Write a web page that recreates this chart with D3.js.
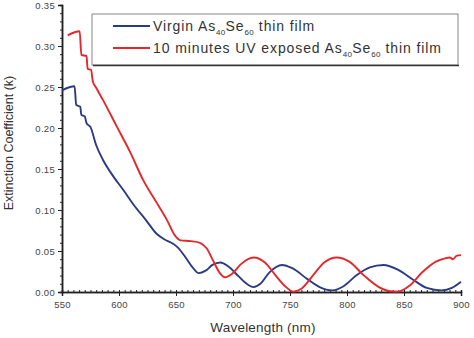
<!DOCTYPE html>
<html><head><meta charset="utf-8">
<script src="https://cdn.jsdelivr.net/npm/d3@7"></script>
<style>body{margin:0;background:#fff}svg{display:block}</style>
</head><body>
<svg id="c" width="474" height="338"></svg>
<script>
// ---- data ----
const xTicks = [550, 600, 650, 700, 750, 800, 850, 900];
const yTicks = [0.00, 0.05, 0.10, 0.15, 0.20, 0.25, 0.30, 0.35];
const virginWl = [550,561,562.5,566,567,570,571.5,575,580,586,595,604,612,624,633,640,646,651,658,664,670,676,682,689,696,705,712,718,724,732,743,752,765,776,787,797,808,820,832,845,858,870,883,892,900];
const virginK  = [0.246,0.251,0.228,0.226,0.216,0.214,0.206,0.201,0.179,0.161,0.141,0.124,0.108,0.087,0.071,0.064,0.060,0.055,0.043,0.031,0.023,0.026,0.033,0.036,0.031,0.019,0.010,0.006,0.010,0.024,0.033,0.029,0.016,0.006,0.002,0.007,0.020,0.030,0.033,0.027,0.015,0.005,0.002,0.005,0.0125];
const uvWl = [555,565.5,567,571.5,572.5,575.5,577,580,586,598,610,621,633,642,649,654,663,671,677,683,688,693,699,707,718,728,737,745,753,760,770,780,791,802,815,828,838,845,855,866,878,886,890,893,896,900];
const uvK  = [0.313,0.318,0.289,0.288,0.272,0.271,0.257,0.249,0.234,0.202,0.170,0.137,0.109,0.088,0.069,0.063,0.062,0.060,0.053,0.037,0.024,0.018,0.022,0.034,0.042,0.036,0.021,0.008,0.0005,0.004,0.020,0.036,0.042,0.037,0.020,0.006,0.001,0.0005,0.008,0.024,0.037,0.041,0.042,0.040,0.044,0.045];
const seriesNames = ["Virgin", "10 minutes UV exposed"];

// ---- chart ----
const svg = d3.select("#c");
const mLeft = 62, mRight = 461, mTop = 5, mBottom = 292;
const x = d3.scaleLinear().domain([550, 900]).range([mLeft, mRight]);
const y = d3.scaleLinear().domain([0, 0.35]).range([mBottom, mTop]);
const font = "Liberation Sans, Arial, sans-serif";
const axisColor = "#222";

// x axis
const gx = svg.append("g").attr("transform", `translate(0,${mBottom})`);
gx.call(d3.axisBottom(x).tickValues(d3.range(555, 900, 5)).tickSize(-2).tickFormat(""));
gx.call(g => g.append("g").call(d3.axisBottom(x).tickValues(xTicks).tickSize(4).tickFormat(d3.format("d"))));
gx.selectAll("path").attr("stroke", axisColor).attr("stroke-width", 1.5);
gx.selectAll("line").attr("stroke", axisColor);
gx.selectAll("text").attr("font-family", font).attr("font-size", 9.5).attr("fill", "#444").attr("dy", "0.9em").attr("letter-spacing", 0.3);

// y axis
const gy = svg.append("g").attr("transform", `translate(${mLeft},0)`);
gy.call(d3.axisLeft(y).tickValues(d3.range(0.01, 0.35, 0.01).filter(v => Math.abs(v*20 - Math.round(v*20)) > 1e-6)).tickSize(2).tickFormat(""));
gy.call(g => g.append("g").call(d3.axisLeft(y).tickValues(yTicks).tickSize(4).tickFormat(d3.format(".2f"))));
gy.selectAll("path").attr("stroke", axisColor).attr("stroke-width", 1.5);
gy.selectAll("line").attr("stroke", axisColor);
gy.selectAll("text").attr("font-family", font).attr("font-size", 9.5).attr("fill", "#444").attr("letter-spacing", 0.3);

// axis titles
svg.append("text").attr("x", 263).attr("y", 332).attr("text-anchor", "middle")
  .attr("font-family", font).attr("font-size", 13.5).attr("letter-spacing", 0.2).attr("fill", "#333").text("Wavelength (nm)");
svg.append("text").attr("transform", "translate(13,143) rotate(-90)").attr("text-anchor", "middle")
  .attr("font-family", font).attr("font-size", 12.5).attr("fill", "#333").text("Extinction Coefficient (k)");

// lines
const line = d3.line().x(d => x(d[0])).y(d => y(d[1])).curve(d3.curveMonotoneX);
const blue = "#2b3a85", red = "#e3282c";
svg.append("path").datum(d3.zip(virginWl, virginK)).attr("d", line)
  .attr("fill", "none").attr("stroke", blue).attr("stroke-width", 1.9);
svg.append("path").datum(d3.zip(uvWl, uvK)).attr("d", line)
  .attr("fill", "none").attr("stroke", red).attr("stroke-width", 1.9);

// legend
const lg = svg.append("g");
lg.append("rect").attr("x", 92).attr("y", 14).attr("width", 366).attr("height", 51)
  .attr("fill", "#fff").attr("stroke", "#888").attr("stroke-width", 1);
lg.append("line").attr("x1", 93).attr("x2", 459).attr("y1", 65.5).attr("y2", 65.5).attr("stroke", "#333").attr("stroke-width", 1.5);
const colors = [blue, red];
seriesNames.forEach((name, i) => {
  const yy = 26 + i * 22;
  lg.append("line").attr("x1", 113).attr("x2", 150).attr("y1", yy).attr("y2", yy)
    .attr("stroke", colors[i]).attr("stroke-width", 2);
  const t = lg.append("text").attr("x", 153).attr("y", yy + 5)
    .attr("font-family", font).attr("font-size", 14).attr("letter-spacing", 0.9).attr("fill", "#333");
  t.append("tspan").text(name + " As");
  t.append("tspan").attr("font-size", 8).attr("letter-spacing", 0.3).attr("dy", 4).text("40");
  t.append("tspan").attr("dy", -4).text("Se");
  t.append("tspan").attr("font-size", 8).attr("letter-spacing", 0.3).attr("dy", 4).text("60");
  t.append("tspan").attr("dy", -4).text(" thin film");
});
</script>
</body></html>
